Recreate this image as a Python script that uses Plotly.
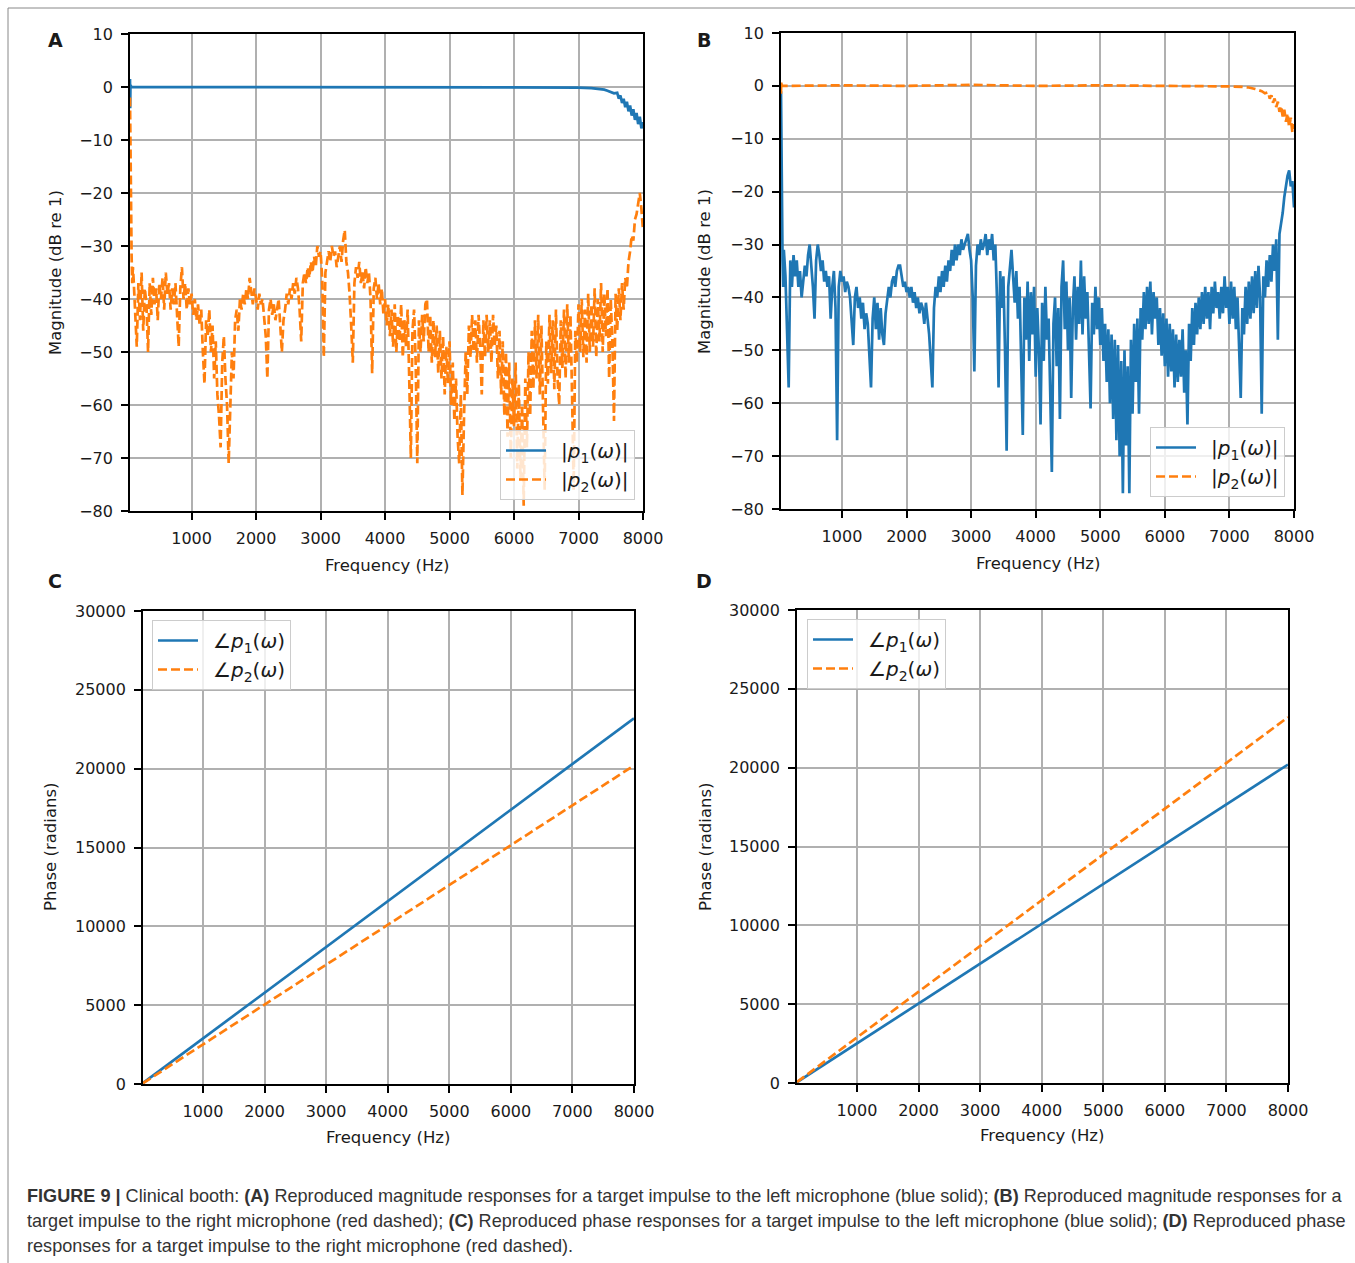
import numpy as np
import plotly.graph_objects as go

W, H = 1355, 1263
BLUE = "#1f77b4"
ORANGE = "#ff7f0e"
FONT = "DejaVu Sans"

# ---------------- DATA ----------------
# Panel A : target impulse to the left microphone (magnitude, dB re 1)
a_p1_freq = [45, 48, 52, 70, 1000, 2000, 3000, 4000, 5000, 6000, 6800, 7000, 7200, 7300,
             7400, 7450, 7500, 7550, 7600, 7625, 7650, 7675, 7700, 7725, 7750, 7775, 7800,
             7825, 7850, 7875, 7900, 7925, 7950, 7975, 8000]
a_p1_db = [1.5, -4, 0.3, 0, 0, 0, 0, 0, 0, 0, 0, -0.1, -0.2, -0.3,
           -0.5, -0.7, -0.9, -1.2, -1.1, -2.2, -1.6, -3.0, -2.2, -3.8, -2.8, -4.6, -3.5,
           -5.4, -4.2, -6.2, -4.9, -7.0, -5.6, -7.8, -6.6]

a_p2_early_freq = [45, 50, 55, 60, 70, 80, 90]
a_p2_early_db = [-2, -10, -20, -26, -32, -37, -34]
# rows of 25 Hz steps, row i starts at 100 + 500*i Hz
a_p2_rows = [
    [-36, -42, -49, -37, -44, -35, -46, -38, -41, -50, -37, -43, -36, -41, -38, -44, -37, -40, -36, -42],
    [-35, -39, -37, -42, -38, -41, -37, -43, -49, -38, -34, -40, -37, -42, -38, -41, -39, -43, -40, -44],
    [-41, -45, -42, -50, -56, -44, -47, -42, -50, -45, -55, -48, -58, -62, -68, -52, -47, -55, -60, -71],
    [-58, -50, -55, -44, -42, -46, -40, -42, -39, -41, -38, -40, -36, -39, -41, -38, -40, -42, -39, -41],
    [-40, -43, -47, -55, -42, -40, -43, -41, -44, -42, -40, -45, -50, -44, -42, -39, -41, -38, -40, -37],
    [-39, -36, -38, -42, -48, -37, -35, -37, -34, -36, -33, -35, -32, -34, -30, -32, -31, -36, -51, -35],
    [-33, -31, -33, -30, -32, -31, -34, -32, -30, -33, -29, -27, -33, -35, -39, -45, -52, -37, -34, -36],
    [-33, -37, -35, -38, -34, -37, -35, -40, -54, -38, -36, -40, -37, -41, -38, -43, -40, -45, -41, -47],
    [-42, -49, -41, -50, -43, -48, -41, -51, -44, -49, -42, -55, -70, -46, -42, -52, -71, -44, -50, -43],
    [-48, -41, -40, -50, -43, -52, -44, -51, -45, -54, -46, -55, -47, -58, -49, -56, -48, -60, -52, -63],
    [-55, -66, -71, -58, -77, -62, -50, -58, -45, -51, -43, -50, -44, -52, -43, -49, -58, -44, -51, -43],
    [-50, -44, -52, -43, -49, -45, -55, -46, -58, -48, -62, -50, -66, -52, -70, -55, -64, -52, -72, -56],
    [-74, -60, -79, -55, -68, -50, -62, -46, -57, -44, -55, -43, -58, -45, -62, -76, -48, -56, -43, -54],
    [-44, -57, -42, -55, -60, -44, -53, -42, -55, -41, -52, -43, -58, -76, -46, -52, -41, -50, -40, -51],
    [-42, -52, -39, -50, -41, -49, -38, -51, -40, -48, -37, -50, -39, -47, -38, -55, -40, -48, -63, -39],
    [-46, -38, -44, -37, -42, -36, -38, -33, -31, -28, -29, -25, -24, -22, -20, -23, -27],
]

# Panel B : target impulse to the right microphone (magnitude, dB re 1)
b_p2_freq = [56, 59, 63, 80, 1000, 2000, 3000, 4000, 5000, 6000, 6800, 7000, 7200, 7300,
             7400, 7450, 7500, 7550, 7600, 7625, 7650, 7675, 7700, 7725, 7750, 7775, 7800,
             7825, 7850, 7875, 7900, 7925, 7950, 7975, 8000]
b_p2_db = [-1.5, 0.8, 0.2, 0, 0.1, 0, 0.2, 0, 0.1, 0, 0, -0.1, -0.2, -0.3,
           -0.6, -0.8, -1.0, -1.4, -1.2, -2.4, -1.8, -3.2, -2.4, -4.0, -3.0, -4.9, -3.8,
           -5.8, -4.5, -6.8, -5.2, -7.8, -6.0, -8.8, -7.2]

b_p1_early_freq = [56, 60, 65, 70, 80, 90]
b_p1_early_db = [-1, -8, -18, -28, -33, -38]
b_p1_rows = [
    [-31, -36, -45, -57, -33, -38, -32, -36, -33, -38, -35, -40, -37, -34, -36, -32, -30, -34, -38, -44],
    [-33, -30, -32, -35, -33, -37, -35, -38, -36, -44, -38, -35, -42, -67, -38, -35, -37, -36, -39, -37],
    [-38, -40, -45, -49, -40, -38, -42, -40, -44, -41, -46, -43, -45, -50, -57, -44, -40, -46, -41, -48],
    [-42, -47, -49, -43, -40, -38, -40, -37, -36, -38, -35, -34, -34, -36, -38, -37, -39, -38, -40, -38],
    [-41, -39, -42, -40, -43, -41, -42, -45, -41, -44, -47, -52, -57, -42, -38, -40, -36, -39, -35, -38],
    [-34, -37, -33, -35, -31, -34, -30, -33, -30, -32, -29, -31, -30, -29, -28, -31, -33, -40, -54, -34],
    [-30, -32, -29, -31, -30, -28, -32, -29, -31, -28, -33, -30, -40, -57, -35, -42, -36, -50, -69, -38],
    [-34, -31, -36, -41, -35, -44, -38, -50, -66, -40, -48, -37, -52, -39, -47, -38, -55, -42, -50, -64],
    [-41, -52, -38, -48, -44, -58, -73, -45, -40, -53, -42, -63, -38, -33, -46, -37, -50, -40, -59, -42],
    [-36, -48, -38, -45, -33, -47, -36, -44, -39, -50, -61, -41, -47, -38, -46, -40, -49, -42, -52, -45],
    [-56, -46, -60, -47, -63, -48, -67, -49, -70, -52, -77, -50, -68, -53, -77, -48, -62, -45, -56, -44],
    [-62, -42, -48, -39, -46, -38, -45, -37, -47, -39, -44, -40, -49, -42, -51, -43, -53, -44, -55, -45],
    [-54, -46, -57, -47, -56, -48, -55, -46, -58, -50, -64, -45, -52, -42, -49, -41, -47, -40, -46, -39],
    [-45, -38, -44, -39, -46, -38, -43, -37, -42, -39, -44, -38, -43, -36, -42, -38, -45, -37, -44, -38],
    [-46, -40, -48, -59, -42, -47, -38, -45, -37, -44, -36, -43, -35, -42, -34, -40, -62, -36, -40, -33],
    [-38, -32, -37, -30, -35, -29, -48, -28, -26, -24, -21, -19, -17, -16, -19, -18, -23],
]

# Panels C and D : unwrapped phase (radians)
phase_freq = [26, 8000]
c_p1_phase = [60, 23200]
c_p2_phase = [50, 20200]
d_p1_phase = [50, 20200]
d_p2_phase = [60, 23200]

mag_ticks = [10, 0, -10, -20, -30, -40, -50, -60, -70, -80]
phase_ticks = [0, 5000, 10000, 15000, 20000, 25000, 30000]
freq_ticks = [1000, 2000, 3000, 4000, 5000, 6000, 7000, 8000]


def rows_to_series(early_f, early_v, rows):
    f, v = list(early_f), list(early_v)
    for i, row in enumerate(rows):
        for k, val in enumerate(row):
            f.append(100 + 500 * i + 25 * k)
            v.append(val)
    return f, v


a_p2_freq, a_p2_db = rows_to_series(a_p2_early_freq, a_p2_early_db, a_p2_rows)
b_p1_freq, b_p1_db = rows_to_series(b_p1_early_freq, b_p1_early_db, b_p1_rows)

# ---------------- FIGURE ----------------
fig = go.Figure()

def px_x(x):
    return x / W

def px_y(y):
    return 1 - y / H

# panel boxes in pixels (left, top, right, bottom)
boxes = {
    "A": (130, 34, 643, 511),
    "B": (781, 33, 1294, 509),
    "C": (143, 611, 634, 1084),
    "D": (797, 610, 1288, 1083),
}
axis_ids = {"A": ("x", "y", ""), "B": ("x2", "y2", "2"), "C": ("x3", "y3", "3"), "D": ("x4", "y4", "4")}

def minus(v):
    return f"{v}".replace("-", "\u2212")

tickfont = dict(family=FONT, size=16, color="#1a1a1a")
common = dict(showline=True, linecolor="black", linewidth=1.8, mirror=True,
              ticks="outside", ticklen=7, tickwidth=1.6, tickcolor="black",
              showgrid=True, gridcolor="#b0b0b0", gridwidth=1.7, zeroline=False,
              tickfont=tickfont, ticklabelstandoff=5, automargin=False)

xranges = {"A": [45, 8000], "B": [56, 8000], "C": [26, 8000], "D": [26, 8000]}

for key, (l, t, r, b) in boxes.items():
    xa, ya, suf = axis_ids[key]
    xd = dict(domain=[px_x(l), px_x(r)], range=xranges[key], tickvals=freq_ticks,
              ticktext=[str(v) for v in freq_ticks], anchor=ya, **common)
    if key in ("A", "B"):
        yd = dict(domain=[px_y(b), px_y(t)], range=[-80, 10], tickvals=mag_ticks,
                  ticktext=[minus(v) for v in mag_ticks], anchor=xa, **common)
    else:
        yd = dict(domain=[px_y(b), px_y(t)], range=[0, 30000], tickvals=phase_ticks,
                  ticktext=[str(v) for v in phase_ticks], anchor=xa, **common)
    fig.layout["xaxis" + suf] = xd
    fig.layout["yaxis" + suf] = yd

lw = 2.7
dash = "9px,4px"
sp = "\u2002"
lab_mag1 = sp + "|<i>p</i><sub>1</sub>(<i>ω</i>)|"
lab_mag2 = sp + "|<i>p</i><sub>2</sub>(<i>ω</i>)|"
lab_ph1 = sp + "∠<i>p</i><sub>1</sub>(<i>ω</i>)"
lab_ph2 = sp + "∠<i>p</i><sub>2</sub>(<i>ω</i>)"

# A
fig.add_trace(go.Scatter(x=a_p1_freq, y=a_p1_db, mode="lines", name=lab_mag1,
                         line=dict(color=BLUE, width=lw), xaxis="x", yaxis="y", legend="legend"))
fig.add_trace(go.Scatter(x=a_p2_freq, y=a_p2_db, mode="lines", name=lab_mag2,
                         line=dict(color=ORANGE, width=lw, dash=dash), xaxis="x", yaxis="y", legend="legend"))
# B
fig.add_trace(go.Scatter(x=b_p1_freq, y=b_p1_db, mode="lines", name=lab_mag1,
                         line=dict(color=BLUE, width=lw), xaxis="x2", yaxis="y2", legend="legend2"))
fig.add_trace(go.Scatter(x=b_p2_freq, y=b_p2_db, mode="lines", name=lab_mag2,
                         line=dict(color=ORANGE, width=lw, dash=dash), xaxis="x2", yaxis="y2", legend="legend2"))
# C
fig.add_trace(go.Scatter(x=phase_freq, y=c_p1_phase, mode="lines", name=lab_ph1,
                         line=dict(color=BLUE, width=lw), xaxis="x3", yaxis="y3", legend="legend3"))
fig.add_trace(go.Scatter(x=phase_freq, y=c_p2_phase, mode="lines", name=lab_ph2,
                         line=dict(color=ORANGE, width=lw, dash=dash), xaxis="x3", yaxis="y3", legend="legend3"))
# D
fig.add_trace(go.Scatter(x=phase_freq, y=d_p1_phase, mode="lines", name=lab_ph1,
                         line=dict(color=BLUE, width=lw), xaxis="x4", yaxis="y4", legend="legend4"))
fig.add_trace(go.Scatter(x=phase_freq, y=d_p2_phase, mode="lines", name=lab_ph2,
                         line=dict(color=ORANGE, width=lw, dash=dash), xaxis="x4", yaxis="y4", legend="legend4"))

leg_common = dict(bgcolor="rgba(255,255,255,0.8)", bordercolor="#cccccc", borderwidth=1,
                  font=dict(family=FONT, size=20, color="#1a1a1a"), tracegroupgap=0,
                  itemwidth=40)
fig.update_layout(
    legend=dict(x=px_x(635), y=px_y(500), xanchor="right", yanchor="bottom", **leg_common),
    legend2=dict(x=px_x(1285), y=px_y(497), xanchor="right", yanchor="bottom", **leg_common),
    legend3=dict(x=px_x(152), y=px_y(620), xanchor="left", yanchor="top", **leg_common),
    legend4=dict(x=px_x(807), y=px_y(619), xanchor="left", yanchor="top", **leg_common),
)

ann = []
def add_text(text, x, y, size=16.5, angle=0, bold=False, xanchor="center", color="#1a1a1a", family=FONT):
    ann.append(dict(text=f"<b>{text}</b>" if bold else text, x=px_x(x), y=px_y(y),
                    xref="paper", yref="paper", showarrow=False, xanchor=xanchor,
                    yanchor="middle", textangle=angle,
                    font=dict(family=family, size=size, color=color)))

# panel letters
add_text("A", 55, 40, size=19, bold=True)
add_text("B", 704, 40, size=19, bold=True)
add_text("C", 55, 581, size=19, bold=True)
add_text("D", 704, 581, size=19, bold=True)
# axis titles
add_text("Frequency (Hz)", 387, 565)
add_text("Frequency (Hz)", 1038, 563)
add_text("Frequency (Hz)", 388, 1137)
add_text("Frequency (Hz)", 1042, 1135)
add_text("Magnitude (dB re 1)", 55, 273, angle=-90)
add_text("Magnitude (dB re 1)", 705, 271, angle=-90)
add_text("Phase (radians)", 50, 847, angle=-90)
add_text("Phase (radians)", 705, 846, angle=-90)

# caption
cap_font = "Liberation Sans"
cap_lines = [
    "<b>FIGURE 9 |</b> Clinical booth: <b>(A)</b> Reproduced magnitude responses for a target impulse to the left microphone (blue solid); <b>(B)</b> Reproduced magnitude responses for a",
    "target impulse to the right microphone (red dashed); <b>(C)</b> Reproduced phase responses for a target impulse to the left microphone (blue solid); <b>(D)</b> Reproduced phase",
    "responses for a target impulse to the right microphone (red dashed).",
]
for i, line in enumerate(cap_lines):
    add_text(line, 25, 1196 + 25 * i, size=18.1, xanchor="left", color="#333333", family=cap_font)

fig.update_layout(
    width=W, height=H, margin=dict(l=0, r=0, t=0, b=0, pad=0, autoexpand=False),
    paper_bgcolor="white", plot_bgcolor="white",
    annotations=ann, showlegend=True,
    shapes=[
        dict(type="line", xref="paper", yref="paper", x0=px_x(8), x1=1, y0=px_y(8), y1=px_y(8),
             line=dict(color="#888888", width=1)),
        dict(type="line", xref="paper", yref="paper", x0=px_x(8), x1=px_x(8), y0=px_y(8), y1=0,
             line=dict(color="#888888", width=1)),
    ],
)

post = (
    "document.documentElement.style.margin='0';document.documentElement.style.padding='0';"
    "document.body.style.margin='0';document.body.style.padding='0';"
    "document.body.style.overflow='hidden';"
    "var gd=document.querySelector('.plotly-graph-div');"
    "gd.style.position='absolute';gd.style.left='0px';gd.style.top='0px';gd.style.margin='0';"
)
fig.write_html("out.html", config={"displayModeBar": False}, post_script=post)
